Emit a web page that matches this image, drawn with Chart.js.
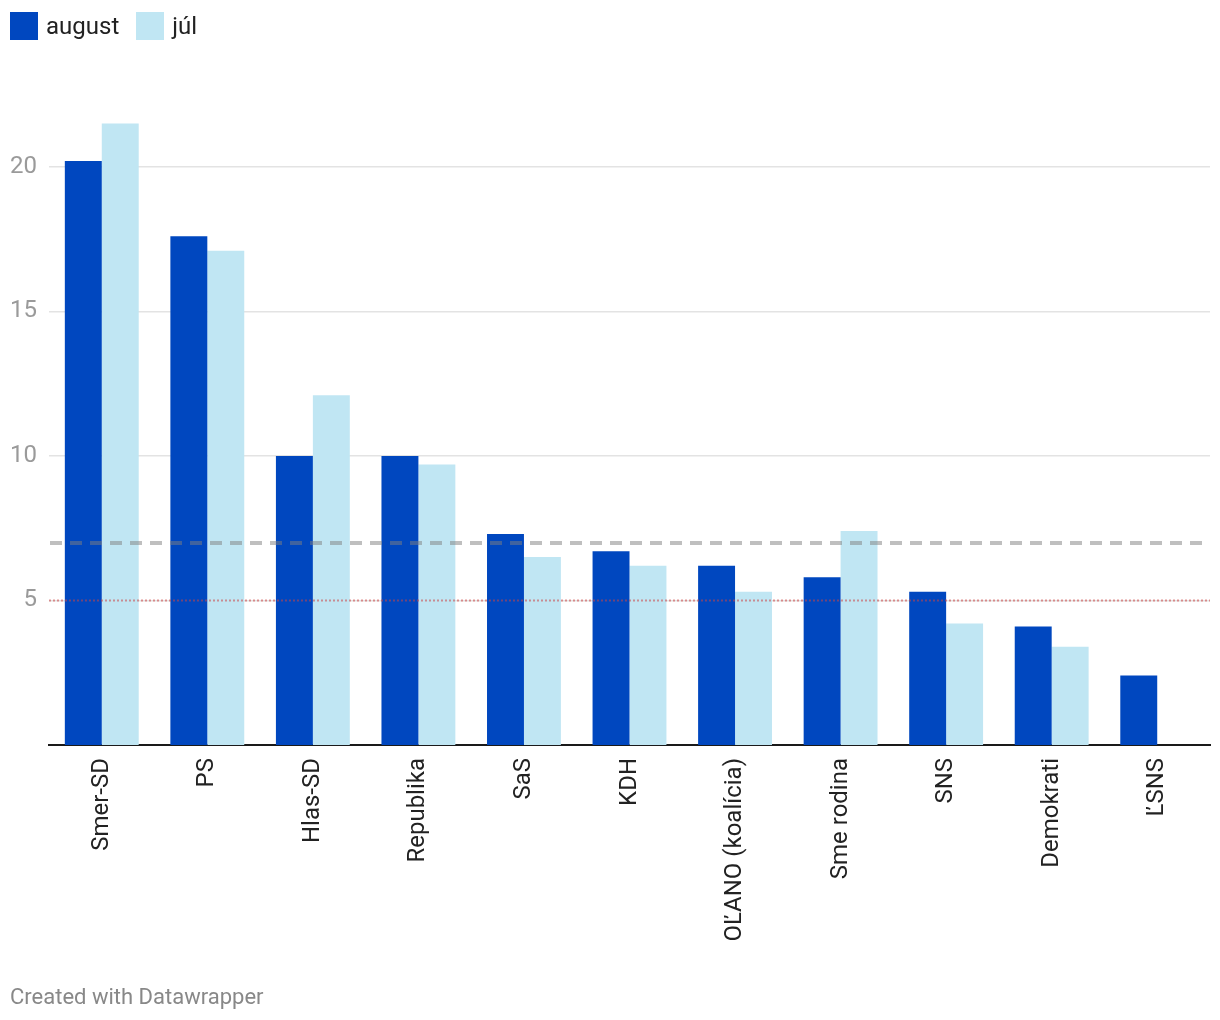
<!DOCTYPE html>
<html>
<head>
<meta charset="utf-8">
<script src="https://cdn.jsdelivr.net/npm/chart.js@4/dist/chart.umd.min.js"></script>
<style>
  html, body { margin: 0; padding: 0; background: #fff; width: 1220px; height: 1020px; overflow: hidden; font-family: Roboto, "Noto Sans", sans-serif; }
  #wrap { position: absolute; left: 0; top: 0; width: 1220px; height: 1020px; }
  #legend { position: absolute; left: 10px; top: 12px; display: flex; align-items: center; font-size: 24px; color: #222; line-height: 28px; }
  .item { display: flex; align-items: center; margin-right: 17px; }
  .sw { width: 28px; height: 28px; margin-right: 8px; }
  #footer { position: absolute; left: 10px; top: 984px; font-size: 22px; color: #888; }
</style>
</head>
<body>
<div id="wrap"><canvas id="c" width="1220" height="1020"></canvas></div>
<div id="legend"></div>
<div id="footer">Created with Datawrapper</div>
<script>
const categories = ["Smer-SD", "PS", "Hlas-SD", "Republika", "SaS", "KDH", "OĽANO (koalícia)", "Sme rodina", "SNS", "Demokrati", "ĽSNS"];
const augustValues = [20.2, 17.6, 10.0, 10.0, 7.3, 6.7, 6.2, 5.8, 5.3, 4.1, 2.4];
const julValues = [21.5, 17.1, 12.1, 9.7, 6.5, 6.2, 5.3, 7.4, 4.2, 3.4, null];
const yTicks = [5, 10, 15, 20];
const thresholdDashed = 7;
const thresholdDotted = 5;
const seriesNames = ["august", "júl"];
const seriesColors = ["#0047BF", "#C0E6F3"];

const legend = document.getElementById('legend');
seriesNames.forEach((n, i) => {
  const it = document.createElement('div'); it.className = 'item';
  const sw = document.createElement('div'); sw.className = 'sw'; sw.style.background = seriesColors[i];
  const tx = document.createElement('span'); tx.textContent = n;
  it.appendChild(sw); it.appendChild(tx); legend.appendChild(it);
});

const refLines = {
  id: 'refLines',
  afterDatasetsDraw(chart) {
    const { ctx, chartArea, scales } = chart;
    ctx.save();
    let y = Math.round(scales.y.getPixelForValue(thresholdDashed));
    ctx.strokeStyle = 'rgba(128,128,128,0.5)';
    ctx.lineWidth = 4;
    ctx.setLineDash([12, 8]);
    ctx.beginPath(); ctx.moveTo(chartArea.left + 1, y); ctx.lineTo(chartArea.right, y); ctx.stroke();
    y = Math.round(scales.y.getPixelForValue(thresholdDotted)) + 0.5;
    ctx.strokeStyle = 'rgba(204,68,68,0.55)';
    ctx.lineWidth = 2;
    ctx.setLineDash([2, 2]);
    ctx.beginPath(); ctx.moveTo(chartArea.left, y); ctx.lineTo(chartArea.right, y); ctx.stroke();
    ctx.restore();
  }
};

new Chart(document.getElementById('c'), {
  type: 'bar',
  data: {
    labels: categories,
    datasets: [
      { label: seriesNames[0], data: augustValues, backgroundColor: seriesColors[0], borderWidth: 0 },
      { label: seriesNames[1], data: julValues, backgroundColor: seriesColors[1], borderWidth: 0 }
    ]
  },
  options: {
    responsive: false,
    animation: false,
    devicePixelRatio: 1,
    layout: { padding: { top: 109, right: 10, left: 0, bottom: 0 } },
    plugins: { legend: { display: false }, tooltip: { enabled: false } },
    datasets: { bar: { categoryPercentage: 0.7, barPercentage: 1.0 } },
    scales: {
      x: {
        grid: { display: false, drawTicks: false },
        border: { display: true, color: '#1a1a1a', width: 2 },
        ticks: { autoSkip: false, minRotation: 90, maxRotation: 90, padding: 13, color: '#222', font: { family: 'Roboto', size: 24 } },
        afterFit: s => { s.height = 275; }
      },
      y: {
        min: 0, max: 22,
        afterBuildTicks: axis => { axis.ticks = yTicks.map(v => ({ value: v })); },
        afterFit: s => { s.width = 49; },
        grid: { color: '#e3e3e3', lineWidth: 1.5, drawTicks: false },
        border: { display: false },
        ticks: { padding: 12, color: '#9a9a9a', font: { family: 'Roboto', size: 24 } }
      }
    }
  },
  plugins: [refLines]
});
</script>
</body>
</html>
